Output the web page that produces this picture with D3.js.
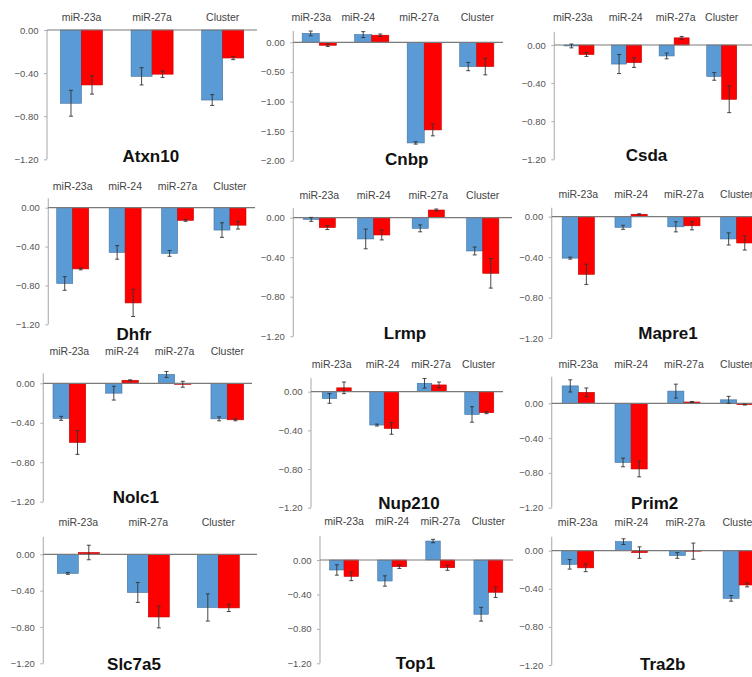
<!DOCTYPE html>
<html>
<head>
<meta charset="utf-8">
<script src="https://cdn.jsdelivr.net/npm/d3@7"></script>
<style>
  html, body { margin: 0; padding: 0; background: #fff; }
  svg { display: block; }
</style>
</head>
<body>
<svg id="chart" width="752" height="677"></svg>
<script>
// ---- data ----------------------------------------------------------------
const genes = ["Atxn10", "Cnbp", "Csda", "Dhfr", "Lrmp", "Mapre1",
               "Nolc1", "Nup210", "Prim2", "Slc7a5", "Top1", "Tra2b"];

const threeCats = ["miR-23a", "miR-27a", "Cluster"];
const fourCats = ["miR-23a", "miR-24", "miR-27a", "Cluster"];
const categoriesByGene = [threeCats, fourCats, fourCats, fourCats, fourCats, fourCats,
                          fourCats, fourCats, fourCats, threeCats, fourCats, fourCats];

// first series (blue) means and error half-widths
const blueMeans = [
  [-0.68, -0.43, -0.65],
  [0.15, 0.13, -1.70, -0.41],
  [-0.01, -0.20, -0.115, -0.33],
  [-0.78, -0.46, -0.47, -0.23],
  [-0.017, -0.215, -0.108, -0.337],
  [-0.41, -0.105, -0.10, -0.22],
  [-0.355, -0.10, 0.09, -0.36],
  [-0.07, -0.345, 0.087, -0.235],
  [0.20, -0.68, 0.14, 0.04],
  [-0.21, -0.42, -0.585],
  [-0.116, -0.244, 0.22, -0.63],
  [-0.143, 0.095, -0.05, -0.50]
];
const blueErrors = [
  [0.12, 0.08, 0.05],
  [0.04, 0.05, 0.02, 0.07],
  [0.02, 0.10, 0.03, 0.04],
  [0.07, 0.07, 0.03, 0.075],
  [0.02, 0.10, 0.035, 0.04],
  [0.01, 0.02, 0.05, 0.06],
  [0.02, 0.07, 0.03, 0.02],
  [0.05, 0.01, 0.05, 0.08],
  [0.07, 0.05, 0.08, 0.04],
  [0.01, 0.11, 0.15],
  [0.06, 0.06, 0.02, 0.08],
  [0.05, 0.03, 0.03, 0.03]
];

// second series (red) means and error half-widths
const redMeans = [
  [-0.51, -0.41, -0.26],
  [-0.05, 0.12, -1.48, -0.41],
  [-0.10, -0.185, 0.075, -0.57],
  [-0.63, -0.98, -0.13, -0.18],
  [-0.10, -0.175, 0.078, -0.563],
  [-0.57, 0.024, -0.09, -0.26],
  [-0.60, 0.03, -0.01, -0.37],
  [0.04, -0.38, 0.07, -0.217],
  [0.126, -0.755, 0.015, -0.015],
  [0.02, -0.69, -0.59],
  [-0.19, -0.078, -0.09, -0.375],
  [-0.18, -0.02, -0.005, -0.36]
];
const redErrors = [
  [0.085, 0.03, 0.015],
  [0.02, 0.02, 0.10, 0.14],
  [0.02, 0.05, 0.015, 0.14],
  [0.01, 0.14, 0.01, 0.04],
  [0.02, 0.05, 0.01, 0.15],
  [0.10, 0.005, 0.04, 0.07],
  [0.12, 0.005, 0.03, 0.01],
  [0.06, 0.06, 0.03, 0.01],
  [0.05, 0.09, 0.005, 0.005],
  [0.08, 0.12, 0.04],
  [0.05, 0.02, 0.03, 0.06],
  [0.04, 0.06, 0.085, 0.02]
];

// y-axis tick labels
const ticksDefault = [0, -0.4, -0.8, -1.2];
const ticksWide = [0, -0.5, -1.0, -1.5, -2.0];
const ticksByGene = [ticksDefault, ticksWide, ticksDefault, ticksDefault, ticksDefault, ticksDefault,
                     ticksDefault, ticksDefault, ticksDefault, ticksDefault, ticksDefault, ticksDefault];

// ---- panel frames (pixel layout) ----------------------------------------
// ax: y-axis x, y0: pixel of zero, yMin: pixel of lowest tick, top: top of axis line,
// right: end of zero line, band: category band range, pad: inner band padding,
// labY: category label row, title: [x, baseline]
const frames = [
  {ax: 47,    y0: 30,    yMin: 159.3, top: 30,    right: 257, band: [46.2, 258],   pad: 0.405, labY: 17,    title: [150.8, 162]},
  {ax: 293.3, y0: 42.3,  yMin: 160.7, top: 31,    right: 503, band: [293, 503],    pad: 0.35,  labY: 17,    title: [406.7, 165],
   labX: [311.3, 358.3, 419, 477.3]},
  {ax: 554.3, y0: 45,    yMin: 159.3, top: 31.7,  right: 752, band: [555.2, 745.5],pad: 0.37,  labY: 17.3,  title: [646.5, 161],
   labX: [572.8, 625.7, 675.7, 721.7]},
  {ax: 48.3,  y0: 207.7, yMin: 324.3, top: 198.3, right: 255, band: [46.5, 256.2], pad: 0.39,  labY: 186.7, title: [134, 340]},
  {ax: 293.3, y0: 217.7, yMin: 336.2, top: 208.3, right: 512, band: [292, 510],    pad: 0.41,  labY: 195,   title: [405, 339]},
  {ax: 551.7, y0: 216.7, yMin: 338,   top: 207.7, right: 752, band: [551.9, 763.1],pad: 0.39,  labY: 194.3, title: [668, 339]},
  {ax: 43.3,  y0: 383.3, yMin: 501.7, top: 373.3, right: 252, band: [43, 253.6],   pad: 0.38,  labY: 351.7, title: [135.8, 503]},
  {ax: 311,   y0: 391.7, yMin: 507.7, top: 378.3, right: 503, band: [313, 503],    pad: 0.39,  labY: 364.3, title: [409, 509],
   labX: [331.7, 382.7, 431, 478.7]},
  {ax: 551.7, y0: 403.3, yMin: 507.7, top: 376.7, right: 752, band: [551.9, 763.1],pad: 0.39,  labY: 364.3, title: [654.7, 509]},
  {ax: 43.3,  y0: 554.3, yMin: 663.3, top: 536.7, right: 257, band: [43.3, 253.3], pad: 0.40,  labY: 522.3, title: [134, 670]},
  {ax: 320,   y0: 560,   yMin: 663.3, top: 535.7, right: 513, band: [320, 512.4],  pad: 0.40,  labY: 521,   title: [415.5, 669]},
  {ax: 551.7, y0: 550.7, yMin: 665,   top: 536.7, right: 752, band: [550.8, 766],  pad: 0.405, labY: 522.3, title: [662.7, 670]}
];

const BLUE = "#5b9bd5", BLUE_EDGE = "#41719c";
const RED = "#ff0000", RED_EDGE = "#c00000";
const FONT = "'Liberation Sans', Arial, sans-serif";

const svg = d3.select("#chart");

genes.forEach((gene, i) => {
  const f = frames[i];
  const cats = categoriesByGene[i];
  const ticks = ticksByGene[i];
  const g = svg.append("g").attr("class", "panel");

  const y = d3.scaleLinear().domain([d3.min(ticks), 0]).range([f.yMin, f.y0]);
  const x = d3.scaleBand().domain(cats).range(f.band)
    .paddingInner(f.pad).paddingOuter(f.pad / 2);
  const xs = d3.scaleBand().domain(["a", "b"]).range([0, x.bandwidth()]);

  // y axis
  const axis = d3.axisLeft(y).tickValues(ticks).tickFormat(d3.format(".2f"))
    .tickSize(3).tickSizeOuter(0);
  const ag = g.append("g").attr("transform", `translate(${f.ax},0)`).call(axis);
  ag.select(".domain").remove();
  ag.selectAll(".tick line").attr("stroke", "#b0b0b0");
  ag.selectAll(".tick text").attr("x", -8.5).attr("fill", "#555")
    .style("font-family", FONT).style("font-size", "9.5px");
  g.append("line")
    .attr("x1", f.ax).attr("x2", f.ax)
    .attr("y1", Math.min(f.top, f.y0)).attr("y2", f.yMin)
    .attr("stroke", "#b5b5b5").attr("stroke-width", 1.2);

  // bars
  const series = [
    {key: "a", means: blueMeans[i], errs: blueErrors[i], fill: BLUE, edge: BLUE_EDGE},
    {key: "b", means: redMeans[i], errs: redErrors[i], fill: RED, edge: RED_EDGE}
  ];
  series.forEach(s => {
    const rows = cats.map((c, j) => ({c, v: s.means[j], e: s.errs[j]}));
    g.append("g").selectAll("rect").data(rows).join("rect")
      .attr("x", d => x(d.c) + xs(s.key))
      .attr("width", xs.bandwidth())
      .attr("y", d => Math.min(y(d.v), y(0)))
      .attr("height", d => Math.abs(y(d.v) - y(0)))
      .attr("fill", s.fill).attr("stroke", s.edge).attr("stroke-width", 0.6);
  });

  // zero line
  g.append("line")
    .attr("x1", f.ax).attr("x2", f.right)
    .attr("y1", y(0)).attr("y2", y(0))
    .attr("stroke", "#7a7a7a").attr("stroke-width", 1.2);

  // error bars
  series.forEach(s => {
    const rows = cats.map((c, j) => ({c, v: s.means[j], e: s.errs[j]}));
    const eg = g.append("g").attr("stroke", "#333").attr("stroke-width", 0.9);
    rows.forEach(d => {
      const cx = x(d.c) + xs(s.key) + xs.bandwidth() / 2;
      const y1 = y(d.v + d.e), y2 = y(d.v - d.e);
      eg.append("line").attr("x1", cx).attr("x2", cx).attr("y1", y1).attr("y2", y2);
      eg.append("line").attr("x1", cx - 2).attr("x2", cx + 2).attr("y1", y1).attr("y2", y1);
      eg.append("line").attr("x1", cx - 2).attr("x2", cx + 2).attr("y1", y2).attr("y2", y2);
    });
  });

  // category labels
  g.append("g").selectAll("text").data(cats).join("text")
    .attr("x", (c, j) => f.labX ? f.labX[j] : x(c) + x.bandwidth() / 2)
    .attr("y", f.labY)
    .attr("dy", "0.35em")
    .attr("text-anchor", "middle")
    .attr("fill", "#444")
    .style("font-family", FONT).style("font-size", "10.5px")
    .text(c => c);

  // gene title
  g.append("text")
    .attr("x", f.title[0]).attr("y", f.title[1])
    .attr("text-anchor", "middle")
    .attr("fill", "#111")
    .style("font-family", FONT).style("font-size", "17px").style("font-weight", "bold")
    .text(gene);
});
</script>
</body>
</html>
